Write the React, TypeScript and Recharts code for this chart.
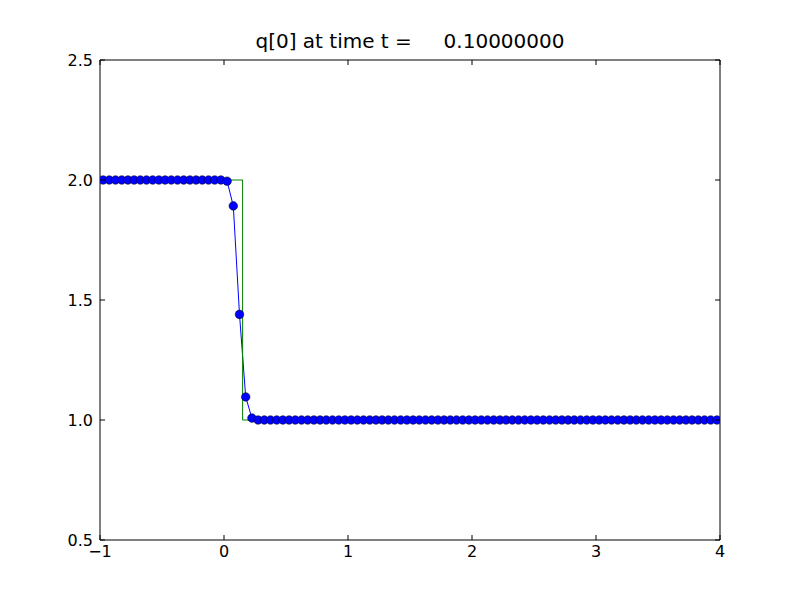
import React from "react";
import { LineChart, Line, XAxis, YAxis } from "recharts";

// cell centres of the numerical grid
const cellX = [
  -0.975, -0.925, -0.875, -0.825, -0.775, -0.725, -0.675, -0.625, -0.575, -0.525,
  -0.475, -0.425, -0.375, -0.325, -0.275, -0.225, -0.175, -0.125, -0.075, -0.025,
  0.025, 0.075, 0.125, 0.175, 0.225, 0.275, 0.325, 0.375, 0.425, 0.475,
  0.525, 0.575, 0.625, 0.675, 0.725, 0.775, 0.825, 0.875, 0.925, 0.975,
  1.025, 1.075, 1.125, 1.175, 1.225, 1.275, 1.325, 1.375, 1.425, 1.475,
  1.525, 1.575, 1.625, 1.675, 1.725, 1.775, 1.825, 1.875, 1.925, 1.975,
  2.025, 2.075, 2.125, 2.175, 2.225, 2.275, 2.325, 2.375, 2.425, 2.475,
  2.525, 2.575, 2.625, 2.675, 2.725, 2.775, 2.825, 2.875, 2.925, 2.975,
  3.025, 3.075, 3.125, 3.175, 3.225, 3.275, 3.325, 3.375, 3.425, 3.475,
  3.525, 3.575, 3.625, 3.675, 3.725, 3.775, 3.825, 3.875, 3.925, 3.975,
];

// computed q[0]
const qNum = [
  2, 2, 2, 2, 2, 2, 2, 2, 2, 2,
  2, 2, 2, 2, 2, 2, 2, 2, 2, 2,
  1.995, 1.892, 1.44, 1.096, 1.008, 1, 1, 1, 1, 1,
  1, 1, 1, 1, 1, 1, 1, 1, 1, 1,
  1, 1, 1, 1, 1, 1, 1, 1, 1, 1,
  1, 1, 1, 1, 1, 1, 1, 1, 1, 1,
  1, 1, 1, 1, 1, 1, 1, 1, 1, 1,
  1, 1, 1, 1, 1, 1, 1, 1, 1, 1,
  1, 1, 1, 1, 1, 1, 1, 1, 1, 1,
  1, 1, 1, 1, 1, 1, 1, 1, 1, 1,
];

// exact solution (step)
const exactX = [-1, 0.15, 0.15, 4];
const exactQ = [2, 2, 1, 1];

const xTicks = [-1, 0, 1, 2, 3, 4];
const yTicks = [0.5, 1.0, 1.5, 2.0, 2.5];

const numData = cellX.map((x, i) => ({ x, q: qNum[i] }));
const exactData = exactX.map((x, i) => ({ x, q: exactQ[i] }));

const FONT = "'DejaVu Sans', sans-serif";
const TICK = 5;

const fmtX = (v: number) => String(v).replace("-", "\u2212");

const BottomTick = (p: any) => (
  <g>
    <line x1={p.x} x2={p.x} y1={p.y} y2={p.y - TICK} stroke="#000" />
    <text x={p.x} y={p.y + 17} textAnchor="middle" fontFamily={FONT} fontSize={16} fill="#000">
      {fmtX(p.payload.value)}
    </text>
  </g>
);

const LeftTick = (p: any) => (
  <g>
    <line x1={p.x} x2={p.x + TICK} y1={p.y} y2={p.y} stroke="#000" />
    <text x={p.x - 7} y={p.y + 6} textAnchor="end" fontFamily={FONT} fontSize={16} fill="#000">
      {p.payload.value.toFixed(1)}
    </text>
  </g>
);

const TopTick = (p: any) => (
  <line x1={p.x} x2={p.x} y1={p.y} y2={p.y + TICK} stroke="#000" />
);

const RightTick = (p: any) => (
  <line x1={p.x} x2={p.x - TICK} y1={p.y} y2={p.y} stroke="#000" />
);

export default function App() {
  return (
    <div style={{ position: "absolute", left: 0, top: 0, width: 800, height: 600, background: "#fff" }}>
      <div
        style={{
          position: "absolute",
          left: 100,
          width: 620,
          top: 31,
          textAlign: "center",
          fontFamily: FONT,
          fontSize: 20,
          lineHeight: "20px",
          whiteSpace: "pre",
        }}
      >
        {"q[0] at time t =     0.10000000"}
      </div>
      <LineChart width={800} height={600} margin={{ top: 59, right: 79, bottom: 0, left: 0 }}>
        <XAxis
          dataKey="x"
          type="number"
          domain={[-1, 4]}
          ticks={xTicks}
          allowDataOverflow
          height={60}
          tickSize={0}
          tickMargin={0}
          tickLine={false}
          axisLine={{ stroke: "#000" }}
          tick={BottomTick}
        />
        <XAxis
          xAxisId="top"
          dataKey="x"
          orientation="top"
          type="number"
          domain={[-1, 4]}
          ticks={xTicks}
          allowDataOverflow
          height={1}
          tickSize={0}
          tickMargin={0}
          tickLine={false}
          axisLine={{ stroke: "#000" }}
          tick={TopTick}
        />
        <YAxis
          type="number"
          domain={[0.5, 2.5]}
          ticks={yTicks}
          allowDataOverflow
          width={100}
          tickSize={0}
          tickMargin={0}
          tickLine={false}
          axisLine={{ stroke: "#000" }}
          tick={LeftTick}
        />
        <YAxis
          yAxisId="right"
          orientation="right"
          type="number"
          domain={[0.5, 2.5]}
          ticks={yTicks}
          allowDataOverflow
          width={1}
          tickSize={0}
          tickMargin={0}
          tickLine={false}
          axisLine={{ stroke: "#000" }}
          tick={RightTick}
        />
        <Line
          data={numData}
          dataKey="q"
          type="linear"
          stroke="#0000ff"
          strokeWidth={1}
          dot={{ r: 4.3, fill: "#0000ff", stroke: "#000", strokeWidth: 0.5 }}
          isAnimationActive={false}
        />
        <Line
          data={exactData}
          dataKey="q"
          xAxisId="top"
          yAxisId="right"
          type="linear"
          stroke="#008000"
          strokeWidth={1}
          dot={false}
          isAnimationActive={false}
        />
      </LineChart>
    </div>
  );
}
